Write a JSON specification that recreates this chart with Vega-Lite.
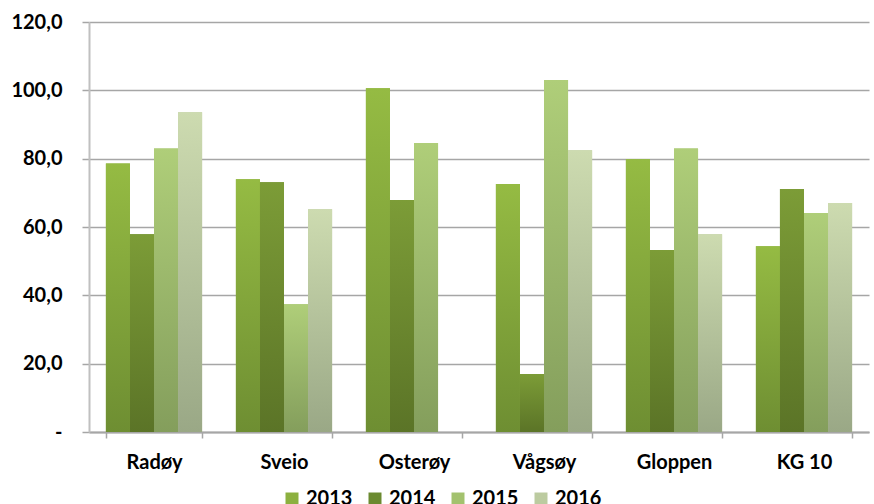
{
  "$schema": "https://vega.github.io/schema/vega-lite/v6.json",
  "autosize": "none",
  "width": 780,
  "height": 410,
  "padding": {"left": 89, "top": 22, "right": 5, "bottom": 72},
  "background": "white",
  "config": {
    "view": {"stroke": null},
    "font": "Lato",
    "axis": {"labelFont": "Lato", "labelFontWeight": "bold", "labelColor": "#000000", "labelFontSize": 20}
  },
  "data": {
    "values": [
      {"kommune": "Radøy", "year": "2013", "value": 78.6},
      {"kommune": "Radøy", "year": "2014", "value": 57.9},
      {"kommune": "Radøy", "year": "2015", "value": 83.0},
      {"kommune": "Radøy", "year": "2016", "value": 93.6},
      {"kommune": "Sveio", "year": "2013", "value": 74.0},
      {"kommune": "Sveio", "year": "2014", "value": 73.1},
      {"kommune": "Sveio", "year": "2015", "value": 37.4},
      {"kommune": "Sveio", "year": "2016", "value": 65.2},
      {"kommune": "Osterøy", "year": "2013", "value": 100.6},
      {"kommune": "Osterøy", "year": "2014", "value": 67.9},
      {"kommune": "Osterøy", "year": "2015", "value": 84.6},
      {"kommune": "Vågsøy", "year": "2013", "value": 72.6},
      {"kommune": "Vågsøy", "year": "2014", "value": 17.0},
      {"kommune": "Vågsøy", "year": "2015", "value": 103.0},
      {"kommune": "Vågsøy", "year": "2016", "value": 82.5},
      {"kommune": "Gloppen", "year": "2013", "value": 79.8},
      {"kommune": "Gloppen", "year": "2014", "value": 53.3},
      {"kommune": "Gloppen", "year": "2015", "value": 83.0},
      {"kommune": "Gloppen", "year": "2016", "value": 57.9},
      {"kommune": "KG 10", "year": "2013", "value": 54.4},
      {"kommune": "KG 10", "year": "2014", "value": 71.1},
      {"kommune": "KG 10", "year": "2015", "value": 64.1},
      {"kommune": "KG 10", "year": "2016", "value": 67.0}
    ]
  },
  "encoding": {
    "x": {
      "field": "kommune", "type": "nominal", "sort": null,
      "scale": {"paddingInner": 0.26, "paddingOuter": 0.13},
      "axis": {
        "title": null, "labelAngle": 0, "labelFontSize": 20, "labelPadding": 14,
        "tickBand": "extent", "tickSize": 6, "tickColor": "#a6a6a6", "tickWidth": 1.5,
        "domainColor": "#a6a6a6", "domainWidth": 2
      }
    },
    "xOffset": {"field": "year", "type": "nominal", "scale": {"domain": ["2013", "2014", "2015", "2016"], "paddingInner": 0, "paddingOuter": 0}},
    "y": {
      "field": "value", "type": "quantitative",
      "scale": {"domain": [0, 120], "nice": false},
      "axis": {
        "title": null, "values": [0, 20, 40, 60, 80, 100, 120],
        "labelExpr": "datum.value == 0 ? '-' : replace(format(datum.value, '.1f'), '.', ',')",
        "labelFontSize": 20, "labelPadding": 20,
        "tickSize": 7, "tickColor": "#a6a6a6", "tickWidth": 1.5,
        "domainColor": "#c0c0c0", "domainWidth": 2,
        "grid": true, "gridColor": "#a6a6a6", "gridWidth": 1.5
      }
    }
  },
  "layer": [
    {
      "mark": {"type": "bar"},
      "encoding": {
        "color": {
          "field": "year", "type": "nominal",
          "scale": {"domain": ["2013", "2014", "2015", "2016"], "range": ["#8cb03f", "#6b8a30", "#a3c26e", "#bccba0"]},
          "legend": {
            "title": null, "orient": "none", "legendX": 193, "legendY": 467,
            "direction": "horizontal", "symbolType": "square", "symbolSize": 169,
            "symbolStrokeWidth": 0, "labelFont": "Lato", "labelFontWeight": "bold",
            "labelFontSize": 20, "labelColor": "#000000", "labelOffset": 4, "columnPadding": 12
          }
        }
      }
    },
    {
      "transform": [{"filter": "datum.year == '2013'"}],
      "mark": {"type": "bar", "fill": {"gradient": "linear", "x1": 0, "y1": 0, "x2": 0, "y2": 1, "stops": [{"offset": 0, "color": "#95bb43"}, {"offset": 1, "color": "#6e8e32"}]}}
    },
    {
      "transform": [{"filter": "datum.year == '2014'"}],
      "mark": {"type": "bar", "fill": {"gradient": "linear", "x1": 0, "y1": 0, "x2": 0, "y2": 1, "stops": [{"offset": 0, "color": "#7c9c37"}, {"offset": 1, "color": "#5b7427"}]}}
    },
    {
      "transform": [{"filter": "datum.year == '2015'"}],
      "mark": {"type": "bar", "fill": {"gradient": "linear", "x1": 0, "y1": 0, "x2": 0, "y2": 1, "stops": [{"offset": 0, "color": "#afce79"}, {"offset": 1, "color": "#849e5c"}]}}
    },
    {
      "transform": [{"filter": "datum.year == '2016'"}],
      "mark": {"type": "bar", "fill": {"gradient": "linear", "x1": 0, "y1": 0, "x2": 0, "y2": 1, "stops": [{"offset": 0, "color": "#cddbb0"}, {"offset": 1, "color": "#9aa886"}]}}
    }
  ]
}
